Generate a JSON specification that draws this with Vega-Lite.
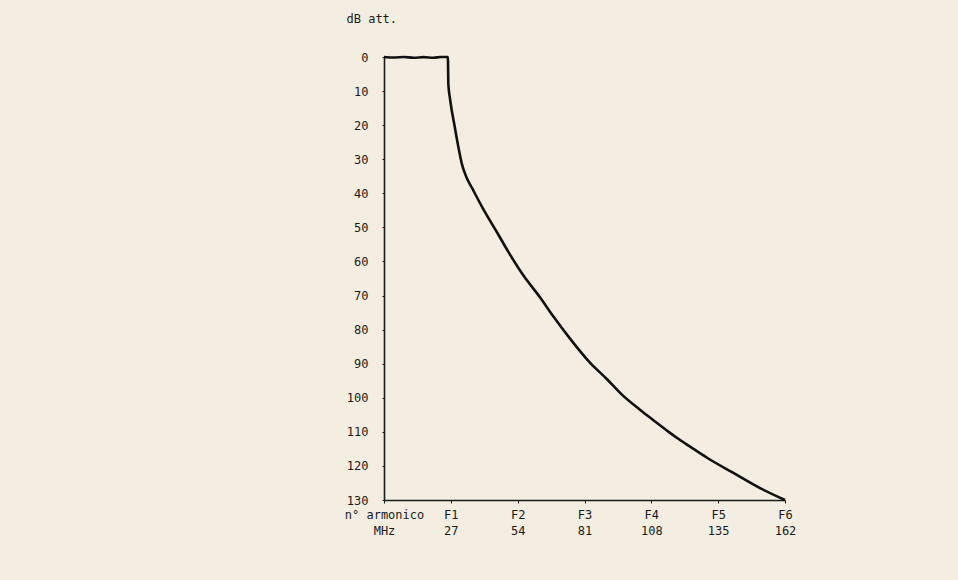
{
  "$schema": "https://vega.github.io/schema/vega-lite/v6.json",
  "autosize": "none",
  "width": 401,
  "height": 443,
  "padding": {"left": 384, "top": 57, "right": 173, "bottom": 80},
  "background": "#f3eee1",
  "config": {
    "view": {"stroke": null},
    "font": "DejaVu Sans Mono",
    "axis": {"labelFont": "DejaVu Sans Mono", "titleFont": "DejaVu Sans Mono", "labelColor": "#1a1a1a", "titleColor": "#1a1a1a", "domainColor": "#1a1a1a", "tickColor": "#1a1a1a", "grid": false}
  },
  "data": {"values": [
    {"mhz": 0, "db": 0}, {"mhz": 4, "db": 0.15}, {"mhz": 8, "db": 0}, {"mhz": 12, "db": 0.2}, {"mhz": 16, "db": 0.05},
    {"mhz": 20, "db": 0.2}, {"mhz": 23, "db": 0}, {"mhz": 25.8, "db": 0},
    {"mhz": 26.0, "db": 8}, {"mhz": 26.7, "db": 12.4}, {"mhz": 28.7, "db": 21}, {"mhz": 30.2, "db": 27},
    {"mhz": 31.5, "db": 31.5}, {"mhz": 33.3, "db": 35.3}, {"mhz": 35.6, "db": 38.5}, {"mhz": 40, "db": 44.5},
    {"mhz": 45.7, "db": 51.5}, {"mhz": 50.5, "db": 57.5}, {"mhz": 56.2, "db": 64}, {"mhz": 63, "db": 70.5},
    {"mhz": 68.3, "db": 76}, {"mhz": 75, "db": 82.5}, {"mhz": 83.2, "db": 89.7}, {"mhz": 90, "db": 94.5},
    {"mhz": 96, "db": 99}, {"mhz": 103.4, "db": 103.5}, {"mhz": 108.7, "db": 106.5}, {"mhz": 115, "db": 110},
    {"mhz": 119.6, "db": 112.4}, {"mhz": 125, "db": 115}, {"mhz": 130.5, "db": 117.6}, {"mhz": 141, "db": 122},
    {"mhz": 151.9, "db": 126.5}, {"mhz": 162, "db": 130}
  ]},
  "mark": {"type": "line", "color": "#111111", "strokeWidth": 2.6, "interpolate": "monotone"},
  "encoding": {
    "x": {
      "field": "mhz", "type": "quantitative",
      "scale": {"domain": [0, 162], "nice": false, "zero": false},
      "axis": {
        "values": [0, 27, 54, 81, 108, 135, 162],
        "labelExpr": "datum.value == 0 ? ['n° armonico', 'MHz'] : ['F' + (datum.value / 27), '' + datum.value]",
        "labelFontSize": 12, "labelPadding": 6, "labelLineHeight": 16, "tickSize": 3, "domainWidth": 1.6,
        "labelFlush": false, "labelOverlap": false, "title": null
      }
    },
    "y": {
      "field": "db", "type": "quantitative",
      "scale": {"domain": [0, 130], "reverse": true, "nice": false},
      "axis": {
        "values": [0, 10, 20, 30, 40, 50, 60, 70, 80, 90, 100, 110, 120, 130],
        "labelFontSize": 12, "labelPadding": 14, "tickSize": 2, "domainWidth": 1.6,
        "labelFlush": false, "labelOverlap": false,
        "title": "dB att.", "titleAngle": 0, "titleFontSize": 12, "titleFontWeight": "normal",
        "titleAlign": "left", "titleBaseline": "middle", "titleX": -38, "titleY": -39
      }
    }
  }
}
